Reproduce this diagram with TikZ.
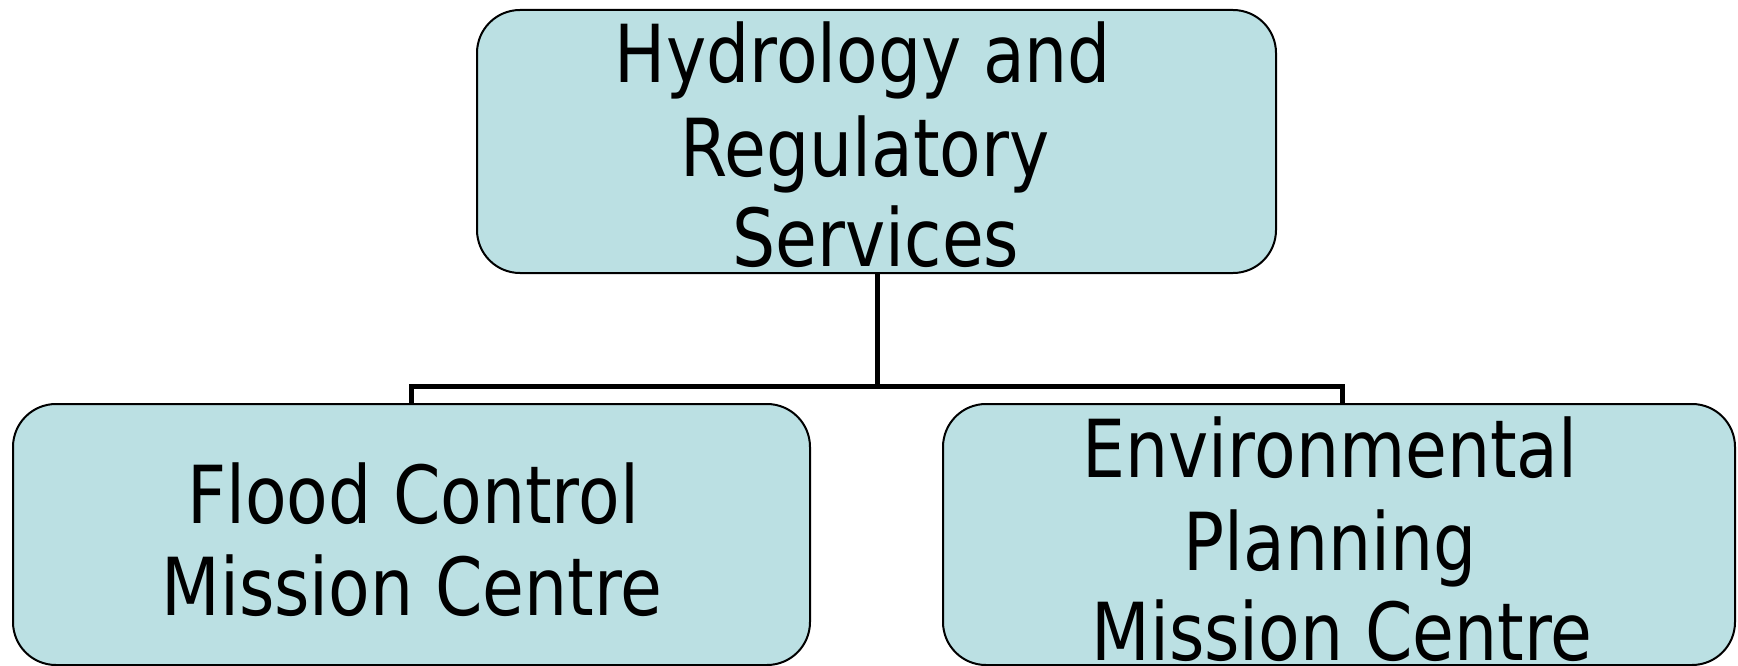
\documentclass[tikz,border=0pt]{standalone}
\usepackage{fontspec}
\newfontfamily\boxfont[FakeStretch=0.85]{DejaVu Sans}
\definecolor{boxfill}{HTML}{BBE0E3}
\tikzset{
  orgbox/.style={draw=black, line width=2pt, fill=boxfill, rounded corners=43pt, inner sep=0pt, outer sep=0pt},
  lbl/.style={anchor=base, inner sep=0pt, font=\boxfont\fontsize{80}{92}\selectfont, text=black},
  conn/.style={draw=black, line width=5pt, line join=miter}
}
\begin{document}
\begin{tikzpicture}[x=1pt,y=-1pt]
\useasboundingbox (0,0) rectangle (1738,666);
% boxes
\node[orgbox, minimum width=799pt, minimum height=263pt] (top) at (876.5,141.5) {};
\node[orgbox, minimum width=797pt, minimum height=261pt] (left) at (411.5,534.5) {};
\node[orgbox, minimum width=792pt, minimum height=261pt] (right) at (1339,534.5) {};
% connectors
\coordinate (bus) at (877,386);
\coordinate (ldrop) at (411,403);
\coordinate (rdrop) at (1342,403);
\draw[conn] (top.south -| bus) -- (bus);
\draw[conn] (ldrop) |- (bus) -| (rdrop);
% labels
\node[lbl] (t1) at (863,83) {Hydrology and};
\node[lbl] (t2) at (865,177) {Regulatory};
\node[lbl] (t3) at (876,266) {Services};
\node[lbl] (l1) at (413,523) {Flood Control};
\node[lbl] (l2) at (412,615) {Mission Centre};
\node[lbl] (r1) at (1330,477) {Environmental};
\node[lbl] (r2) at (1330,570) {Planning};
\node[lbl] (r3) at (1342,660) {Mission Centre};
\end{tikzpicture}
\end{document}
